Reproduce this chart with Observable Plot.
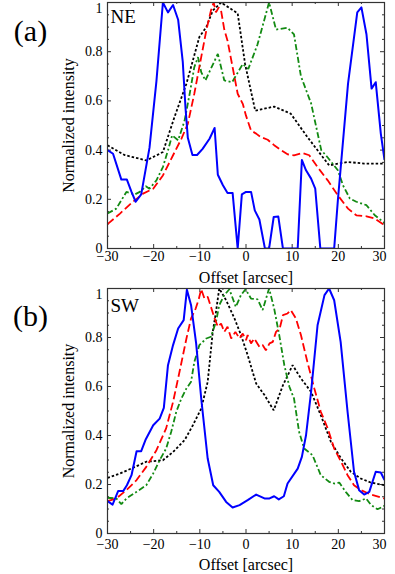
<!DOCTYPE html>
<html><head><meta charset="utf-8">
<script src="https://cdn.jsdelivr.net/npm/d3@7"></script>
<script src="https://cdn.jsdelivr.net/npm/@observablehq/plot@0.6"></script>
<style>
html,body{margin:0;padding:0;background:#fff;}
#chart svg{display:block;}
#chart svg, #chart svg text{font-family:'Liberation Serif','DejaVu Serif','Times New Roman',serif !important;}
</style>
</head><body><div id="chart"></div>
<script>
// ---- data: [offset arcsec, normalized intensity] ----
const neBlue = [[-30,0.40],[-28.8,0.385],[-27,0.28],[-25.8,0.28],[-24.8,0.23],[-23.9,0.19],[-22.7,0.22],[-20.9,0.41],[-19.4,0.68],[-18,1.0],[-16.9,0.96],[-15.8,0.99],[-14.7,0.93],[-13.7,0.76],[-13.1,0.57],[-12.6,0.45],[-11.6,0.38],[-10.6,0.38],[-9.4,0.405],[-7.9,0.446],[-6.8,0.49],[-6.1,0.30],[-5,0.257],[-4,0.226],[-2.9,0.226],[-1.8,0],[-0.9,0.22],[0,0.23],[1.1,0.23],[1.9,0.155],[2.9,0.118],[4.1,0],[5,0],[6,0.128],[7,0.13],[8,0],[11.2,0],[12.1,0.36],[13,0.318],[14.1,0.284],[15,0.243],[16.1,0],[19.1,0],[19.9,0.196],[22.1,0.67],[24.1,0.96],[25,0.98],[26.1,0.87],[27.2,0.65],[28.1,0.676],[29.2,0.467],[30,0.36]];
const neBlack = [[-30,0.42],[-26.3,0.38],[-21.6,0.358],[-18,0.392],[-15.5,0.534],[-12.9,0.67],[-10.1,0.86],[-8.6,0.90],[-7.2,0.967],[-5.4,1.0],[-1.8,0.956],[-0.2,0.75],[2.0,0.56],[6.1,0.577],[9.7,0.548],[13.3,0.453],[18,0.338],[22,0.352],[25.6,0.345],[30,0.345]];
const neRed = [[-30,0.099],[-27.3,0.142],[-24.5,0.19],[-22.3,0.223],[-20.1,0.243],[-18,0.297],[-15.8,0.379],[-14,0.446],[-12.6,0.507],[-11.2,0.629],[-9.7,0.778],[-8.6,0.886],[-7.6,0.967],[-7,1.0],[-6.5,0.96],[-5.9,0.98],[-5.4,0.967],[-4.7,0.89],[-4,0.845],[-2.9,0.737],[-1.8,0.629],[-0.7,0.588],[0,0.54],[1.08,0.48],[2.2,0.467],[3.2,0.453],[4.7,0.442],[6.1,0.42],[7.6,0.40],[9,0.383],[10.4,0.379],[12.2,0.388],[13.7,0.379],[15.5,0.331],[17.7,0.277],[19.9,0.216],[22.1,0.162],[23.9,0.135],[26.1,0.131],[27.9,0.122],[30,0.095]];
const neGreen = [[-30,0.142],[-28.1,0.162],[-25.9,0.23],[-24.1,0.22],[-23,0.23],[-21.7,0.253],[-20.9,0.243],[-19.4,0.277],[-18,0.331],[-16.9,0.399],[-16,0.46],[-14.7,0.44],[-13.3,0.52],[-12.2,0.629],[-11.2,0.737],[-10.4,0.778],[-9.7,0.717],[-8.8,0.683],[-7.8,0.723],[-6.1,0.791],[-4.7,0.683],[-3,0.676],[-0.7,0.75],[0.5,0.73],[2.5,0.83],[5,1.0],[6.5,0.89],[9,0.897],[10.4,0.87],[11.9,0.70],[14.1,0.59],[16.3,0.40],[17.7,0.37],[19.9,0.318],[21,0.257],[22.5,0.203],[23.9,0.19],[26.1,0.176],[27.9,0.135],[30,0.104]];

const swBlue = [[-30,0.132],[-28.9,0.118],[-27.7,0.173],[-26.6,0.173],[-25.8,0.197],[-24.8,0.238],[-23.7,0.336],[-22.7,0.336],[-21.7,0.385],[-20.1,0.442],[-18.7,0.469],[-17.8,0.513],[-16.9,0.687],[-15.8,0.769],[-14.7,0.837],[-13.5,0.871],[-12.8,0.995],[-11.9,0.932],[-10.8,0.776],[-9.7,0.551],[-8.3,0.306],[-7.1,0.197],[-5.8,0.17],[-4.3,0.129],[-2.9,0.106],[-1.4,0.116],[0.36,0.136],[2.2,0.159],[4,0.143],[5.1,0.143],[6.1,0.152],[7.1,0.139],[8.2,0.152],[9,0.204],[11.2,0.265],[12.1,0.313],[13,0.401],[14.1,0.578],[15.5,0.85],[17,0.973],[18,1.0],[19.1,0.952],[20.5,0.782],[22,0.497],[23.4,0.252],[24.5,0.177],[25.6,0.159],[26.7,0.17],[28.1,0.252],[29.2,0.249],[30,0.218]];
const swRed = [[-30,0.132],[-28.1,0.143],[-25.9,0.177],[-23.7,0.218],[-21.6,0.272],[-19.4,0.34],[-17.3,0.429],[-15.8,0.537],[-14.4,0.66],[-12.9,0.796],[-11.9,0.878],[-10.9,0.918],[-10.2,0.959],[-9.7,0.997],[-9,0.959],[-8.3,0.966],[-7.6,0.925],[-6.8,0.878],[-6.1,0.844],[-5.4,0.857],[-4.7,0.823],[-4,0.844],[-3.2,0.796],[-2.3,0.823],[-1.4,0.796],[-0.7,0.816],[0,0.789],[0.36,0.81],[1.08,0.776],[1.8,0.796],[2.9,0.762],[3.6,0.769],[4.3,0.748],[5.1,0.776],[5.8,0.782],[6.5,0.823],[7.3,0.837],[8,0.891],[9,0.898],[9.7,0.912],[10.8,0.878],[11.9,0.81],[13.3,0.70],[14.8,0.592],[16.2,0.497],[17.7,0.429],[19.1,0.347],[20.6,0.293],[22,0.238],[23.4,0.197],[24.9,0.177],[27,0.159],[30,0.143]];
const swBlack = [[-30,0.227],[-27.3,0.245],[-24.5,0.268],[-21.6,0.293],[-18,0.299],[-15.8,0.333],[-13.3,0.381],[-11.5,0.442],[-9.7,0.51],[-8.3,0.619],[-7.2,0.823],[-6.5,0.905],[-5.8,1.0],[-4.3,0.952],[-2.5,0.878],[-1.08,0.81],[0.36,0.728],[2.2,0.612],[4,0.565],[6,0.503],[8,0.605],[10.1,0.687],[11.9,0.633],[14.1,0.578],[16.2,0.483],[18.4,0.374],[20.6,0.306],[22.7,0.252],[24.9,0.224],[27,0.208],[30,0.197]];
const swGreen = [[-30,0.146],[-28.1,0.143],[-27,0.12],[-25.9,0.143],[-23.7,0.17],[-21.6,0.197],[-20.1,0.245],[-18.7,0.299],[-17.3,0.347],[-16.2,0.415],[-15.1,0.497],[-14,0.551],[-12.9,0.592],[-11.9,0.619],[-11.2,0.70],[-10.1,0.769],[-8.6,0.796],[-7.6,0.803],[-6.5,0.864],[-5.8,0.932],[-4.7,0.973],[-3.6,0.997],[-2.2,0.925],[-1.1,0.973],[-0.1,0.997],[1.08,0.959],[2.5,0.956],[3.6,0.912],[5,1.0],[6.1,0.918],[7.2,0.81],[8.3,0.687],[9.4,0.599],[10.4,0.551],[11.5,0.415],[12.6,0.347],[14.4,0.32],[16.2,0.238],[18,0.211],[19.1,0.204],[20.2,0.208],[21.6,0.17],[23.1,0.136],[24.5,0.132],[26,0.143],[27.1,0.116],[28.5,0.099],[30,0.113]];

// ---- axis ticks and labels ----
const xTicks = [-30, -20, -10, 0, 10, 20, 30];
const xMinor = [-25, -15, -5, 5, 15, 25];
const yTicks = [0, 0.2, 0.4, 0.6, 0.8, 1];
const yMinor = [0.05,0.1,0.15,0.25,0.3,0.35,0.45,0.5,0.55,0.65,0.7,0.75,0.85,0.9,0.95];
const panelLetters = ["(a)", "(b)"];
const regionNames = ["NE", "SW"];
const xLabel = "Offset [arcsec]";
const yLabel = "Normalized intensity";

const FONT = "'Liberation Serif', 'DejaVu Serif', 'Times New Roman', serif";
const fmtX = d => d < 0 ? "\u2212" + (-d) : String(d);

function panel({series, letter, region, height, mt, mb, tickPad, titleDy, letterDy, regionDy}) {
  const ml = 107, mr = 11;
  const ih = height - mt - mb, iw = 395 - ml - mr;
  const maj = 4, mnr = 2;
  const tickStyle = {stroke: "#333", strokeWidth: 1};
  const lineBase = {strokeWidth: 1.8, strokeLinecap: "butt", strokeLinejoin: "miter", clip: true};
  const [blue, red, black, green] = series;
  const txt = {fontFamily: FONT, fill: "#000"};
  return Plot.plot({
    width: 395, height, marginLeft: ml, marginRight: mr, marginTop: mt, marginBottom: mb,
    x: {domain: [-30, 30]},
    y: {domain: [0, 1]},
    style: {fontFamily: FONT, background: "#fff", color: "#000", overflow: "visible"},
    marks: [
      // inward ticks on all sides
      Plot.tickX(xTicks, {x: d => d, insetTop: ih - maj, ...tickStyle}),
      Plot.tickX(xTicks, {x: d => d, insetBottom: ih - maj, ...tickStyle}),
      Plot.tickX(xMinor, {x: d => d, insetTop: ih - mnr, ...tickStyle}),
      Plot.tickX(xMinor, {x: d => d, insetBottom: ih - mnr, ...tickStyle}),
      Plot.tickY(yTicks, {y: d => d, insetRight: iw - maj, ...tickStyle}),
      Plot.tickY(yTicks, {y: d => d, insetLeft: iw - maj, ...tickStyle}),
      Plot.tickY(yMinor, {y: d => d, insetRight: iw - mnr, ...tickStyle}),
      Plot.tickY(yMinor, {y: d => d, insetLeft: iw - mnr, ...tickStyle}),
      // curves
      Plot.line(black, {...lineBase, stroke: "#000", strokeDasharray: "2.5,2"}),
      Plot.line(green, {...lineBase, stroke: "#128a12", strokeDasharray: "6,2.5,2,2.5"}),
      Plot.line(red, {...lineBase, stroke: "#ff0000", strokeDasharray: "8,3.5"}),
      Plot.line(blue, {...lineBase, stroke: "#0000ff", strokeWidth: 2, strokeLinejoin: "round"}),
      Plot.frame({stroke: "#333", strokeWidth: 1.2}),
      // tick labels
      Plot.axisX({ticks: xTicks.slice(0, -1), tickSize: 0, tickPadding: tickPad, tickFormat: fmtX, fontSize: 14, label: null, ...txt}),
      Plot.axisX({ticks: xTicks.slice(-1), tickSize: 0, tickPadding: tickPad, tickFormat: fmtX, fontSize: 14, dx: -5, label: null, ...txt}),
      Plot.axisY({ticks: yTicks.slice(0, -1), tickSize: 0, tickPadding: 5, tickFormat: d => String(d), fontSize: 14, label: null, ...txt}),
      Plot.axisY({ticks: yTicks.slice(-1), tickSize: 0, tickPadding: 5, tickFormat: d => String(d), fontSize: 14, dy: 6, label: null, ...txt}),
      // axis titles
      Plot.text([xLabel], {frameAnchor: "bottom", dy: titleDy, fontSize: 16, textAnchor: "middle", lineAnchor: "middle", ...txt}),
      Plot.text([yLabel], {frameAnchor: "left", dx: -39, rotate: -90, fontSize: 16, textAnchor: "middle", lineAnchor: "middle", ...txt}),
      // panel letter & region label
      Plot.text([letter], {frameAnchor: "top-left", dx: -77, dy: letterDy, fontSize: 30, textAnchor: "middle", lineAnchor: "middle", ...txt}),
      Plot.text([region], {frameAnchor: "top-left", dx: 3, dy: regionDy, fontSize: 19, textAnchor: "start", lineAnchor: "middle", ...txt})
    ]
  });
}

const chart = document.getElementById("chart");
chart.append(panel({series: [neBlue, neRed, neBlack, neGreen], letter: panelLetters[0], region: regionNames[0],
  height: 285, mt: 2, mb: 37, tickPad: 3, titleDy: 29, letterDy: 29, regionDy: 14.5}));
chart.append(panel({series: [swBlue, swRed, swBlack, swGreen], letter: panelLetters[1], region: regionNames[1],
  height: 289, mt: 3, mb: 41, tickPad: 6, titleDy: 31, letterDy: 27.5, regionDy: 17}));
</script>
</body></html>
